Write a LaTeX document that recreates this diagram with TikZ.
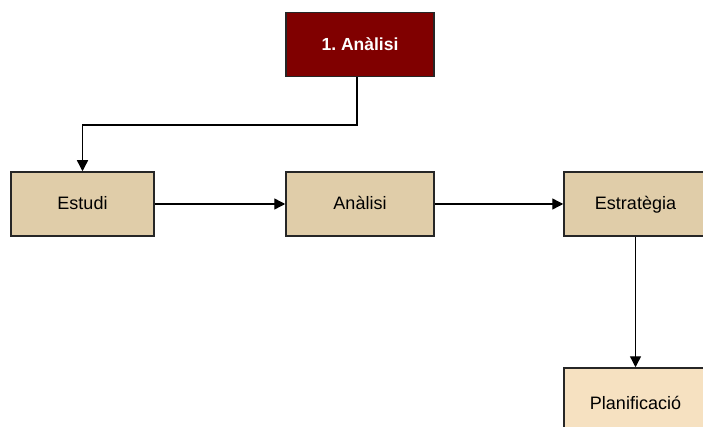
\documentclass[tikz,border=0pt]{standalone}
\usepackage{fontspec}
\setmainfont{Liberation Sans}
\usepackage{tikz}
\usetikzlibrary{arrows.meta,positioning}
\frenchspacing

\definecolor{fasebg}{HTML}{800000}
\definecolor{pasbg}{HTML}{E0CDA9}
\definecolor{pasclar}{HTML}{F6E1C1}
\definecolor{vora}{HTML}{262626}

\tikzset{
    fase/.style={draw=vora, line width=1.5pt, fill=fasebg, text=white,
        minimum width=148pt, minimum height=64pt,
        font=\fontsize{17.5}{20}\selectfont\bfseries},
    pas/.style={draw=vora, line width=1.5pt, fill=pasbg,
        minimum width=143pt, minimum height=64pt, text height=12pt, text depth=1.5pt,
        font=\fontsize{18}{21}\selectfont},
    fletxa/.style={draw=black, line width=1.4pt, -{Triangle[length=11pt,width=11pt]}}
}

\begin{document}
\begin{tikzpicture}[x=1pt, y=-1pt]
        \useasboundingbox (0,0) rectangle (703,427);

        \node[fase] (analisi1) at (360,44.5) {1. Anàlisi};
        \node[pas] (estudi) at (82.5,204) {Estudi};
        \node[pas, minimum width=148pt] (analisi) at (360,204) {Anàlisi};
        \node[pas] (estrategia) at (635.5,204) {Estratègia};
        \node[pas, fill=pasclar, minimum height=72pt] (planif) at (635.5,404) {Planificació};

        \draw[fletxa] ([xshift=-3pt]analisi1.south) |- (82.5,125) -- (estudi.north);
        \draw[fletxa] (estudi) -- (analisi);
        \draw[fletxa] (analisi) -- (estrategia);
        \draw[fletxa] (estrategia) -- (planif);
    \end{tikzpicture}
\end{document}
